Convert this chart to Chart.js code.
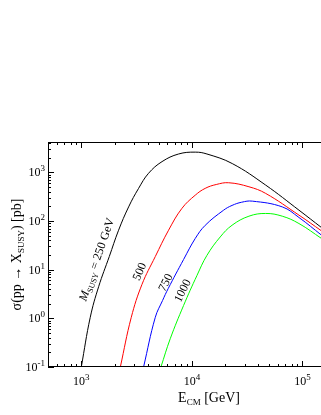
<!DOCTYPE html>
<html>
<head>
<meta charset="utf-8">
<script src="https://cdn.jsdelivr.net/npm/chart.js@4.4.1/dist/chart.umd.min.js"></script>
<style>
  html, body { margin: 0; padding: 0; background: #fff; }
</style>
</head>
<body>
<canvas id="chart" width="321" height="415"></canvas>
<script>
// cross sections, E_CM in GeV, sigma in pb
const energy250 = [1000, 1205, 1435, 1791, 2173, 2679, 3296, 4055, 5370, 7586, 10720, 13680, 23170, 46450, 92900, 148900];
const sigma250  = [0.1, 1.05, 4.47, 18.6, 64.6, 195, 468, 955, 1660, 2382, 2600, 2382, 1514, 547, 167, 73];

const energy500 = [2254, 2831, 3540, 4667, 6152, 8128, 10720, 13180, 16600, 21480, 32810, 46450, 92900, 148900];
const sigma500  = [0.1, 1.05, 5.0, 18.6, 64.6, 182, 339, 468, 562, 611, 505, 369, 132, 62.5];

const energy750 = [3656, 4667, 5433, 6095, 8414, 10720, 13180, 19360, 23070, 28180, 35160, 65610, 92900, 148900];
const sigma750  = [0.1, 1.05, 2.33, 4.06, 16.2, 43.7, 81.3, 167, 209, 243, 256, 195, 118, 51];

const energy1000 = [5248, 6368, 8414, 11120, 13680, 18030, 23070, 32810, 46450, 65610, 92900, 148900];
const sigma1000  = [0.1, 0.38, 1.84, 7.62, 19.7, 47, 81.8, 125.6, 142.9, 125.6, 88.7, 43.6];

const xTickPowers = [3, 4, 5];
const yTickPowers = [-1, 0, 1, 2, 3];

const serif = '"Liberation Serif", "DejaVu Serif", serif';

function toPoints(xs, ys) {
  return xs.map((x, i) => ({ x: x, y: ys[i] }));
}

function line(data, color) {
  return {
    data: data,
    borderColor: color,
    borderWidth: 1,
    pointRadius: 0,
    showLine: true,
    fill: false,
    tension: 0.4
  };
}

// text made of pieces with their own font / vertical offset
function drawRich(ctx, parts, x, y, angle, align) {
  ctx.save();
  ctx.translate(x, y);
  ctx.rotate(angle * Math.PI / 180);
  let w = 0;
  parts.forEach(p => { ctx.font = p.font; p.w = ctx.measureText(p.t).width; w += p.w; });
  let cx = align === 'center' ? -w / 2 : (align === 'right' ? -w : 0);
  ctx.textAlign = 'left';
  ctx.textBaseline = 'alphabetic';
  ctx.fillStyle = '#000';
  parts.forEach(p => { ctx.font = p.font; ctx.fillText(p.t, cx, p.dy || 0); cx += p.w; });
  ctx.restore();
}

function pow10(exp) {
  return [
    { t: '10', font: '12px ' + serif, dy: 4 },
    { t: String(exp), font: '9px ' + serif, dy: -1 }
  ];
}

const curveLabels = [
  { x: 1368, y: 16.3, angle: -71, parts: [
      { t: 'M', font: 'italic 12px ' + serif, dy: 4 },
      { t: 'SUSY', font: '8px ' + serif, dy: 7 },
      { t: ' = 250 GeV', font: '12px ' + serif, dy: 4 }
    ] },
  { x: 3342, y: 9.2, angle: -66, parts: [{ t: '500', font: '12px ' + serif, dy: 4 }] },
  { x: 5754, y: 5.5, angle: -63, parts: [{ t: '750', font: '12px ' + serif, dy: 4 }] },
  { x: 8185, y: 3.74, angle: -63, parts: [{ t: '1000', font: '12px ' + serif, dy: 4 }] }
];

const framePlugin = {
  id: 'frame',
  afterDatasetsDraw(chart) {
    const ctx = chart.ctx;
    const a = chart.chartArea;
    const xs = chart.scales.x;
    const ys = chart.scales.y;
    ctx.save();
    ctx.strokeStyle = '#000';
    ctx.lineWidth = 1;

    // frame: left, top, bottom
    ctx.beginPath();
    ctx.moveTo(a.right, a.top + 0.5);
    ctx.lineTo(a.left + 0.5, a.top + 0.5);
    ctx.lineTo(a.left + 0.5, a.bottom - 0.5);
    ctx.lineTo(a.right, a.bottom - 0.5);
    ctx.stroke();

    // inward ticks
    ctx.beginPath();
    for (let n = 2; n <= 5; n++) {
      for (let k = 1; k <= 9; k++) {
        const v = k * Math.pow(10, n);
        if (v < xs.min || v > xs.max) continue;
        const px = Math.round(xs.getPixelForValue(v)) + 0.5;
        const len = k === 1 ? 6 : 3;
        ctx.moveTo(px, a.bottom); ctx.lineTo(px, a.bottom - len);
        ctx.moveTo(px, a.top); ctx.lineTo(px, a.top + len);
      }
    }
    for (let n = -1; n <= 3; n++) {
      for (let k = 1; k <= 9; k++) {
        const v = k * Math.pow(10, n);
        if (v < ys.min || v > ys.max) continue;
        const py = Math.round(ys.getPixelForValue(v)) + 0.5;
        const len = k === 1 ? 6 : 3;
        ctx.moveTo(a.left, py); ctx.lineTo(a.left + len, py);
      }
    }
    ctx.stroke();
    ctx.restore();

    // tick labels
    xTickPowers.forEach(p => {
      drawRich(ctx, pow10(p), xs.getPixelForValue(Math.pow(10, p)), a.bottom + 14, 0, 'center');
    });
    yTickPowers.forEach(p => {
      drawRich(ctx, pow10(p), a.left - 3, ys.getPixelForValue(Math.pow(10, p)), 0, 'right');
    });

    // axis titles
    drawRich(ctx, [
      { t: 'E', font: '14px ' + serif, dy: 0 },
      { t: 'CM', font: '9px ' + serif, dy: 3 },
      { t: ' [GeV]', font: '14px ' + serif, dy: 0 }
    ], 209, 402, 0, 'center');
    drawRich(ctx, [
      { t: 'σ(pp → X', font: '14px ' + serif, dy: 0 },
      { t: 'SUSY', font: '9px ' + serif, dy: 3 },
      { t: ') [pb]', font: '14px ' + serif, dy: 0 }
    ], 21, (a.top + a.bottom) / 2, -90, 'center');

    // curve labels
    curveLabels.forEach(l => {
      drawRich(ctx, l.parts, xs.getPixelForValue(l.x), ys.getPixelForValue(l.y), l.angle, 'center');
    });
  }
};

new Chart(document.getElementById('chart'), {
  type: 'scatter',
  data: {
    datasets: [
      line(toPoints(energy250, sigma250), '#000000'),
      line(toPoints(energy500, sigma500), '#ff0000'),
      line(toPoints(energy750, sigma750), '#0000ff'),
      line(toPoints(energy1000, sigma1000), '#00ff00')
    ]
  },
  options: {
    responsive: false,
    animation: false,
    devicePixelRatio: 1,
    layout: { padding: { left: 48, top: 142, right: 0, bottom: 48 } },
    plugins: {
      legend: { display: false },
      tooltip: { enabled: false }
    },
    scales: {
      x: { type: 'logarithmic', min: 500, max: 147000, display: false },
      y: { type: 'logarithmic', min: 0.1, max: 4200, display: false }
    }
  },
  plugins: [framePlugin]
});
</script>
</body>
</html>
